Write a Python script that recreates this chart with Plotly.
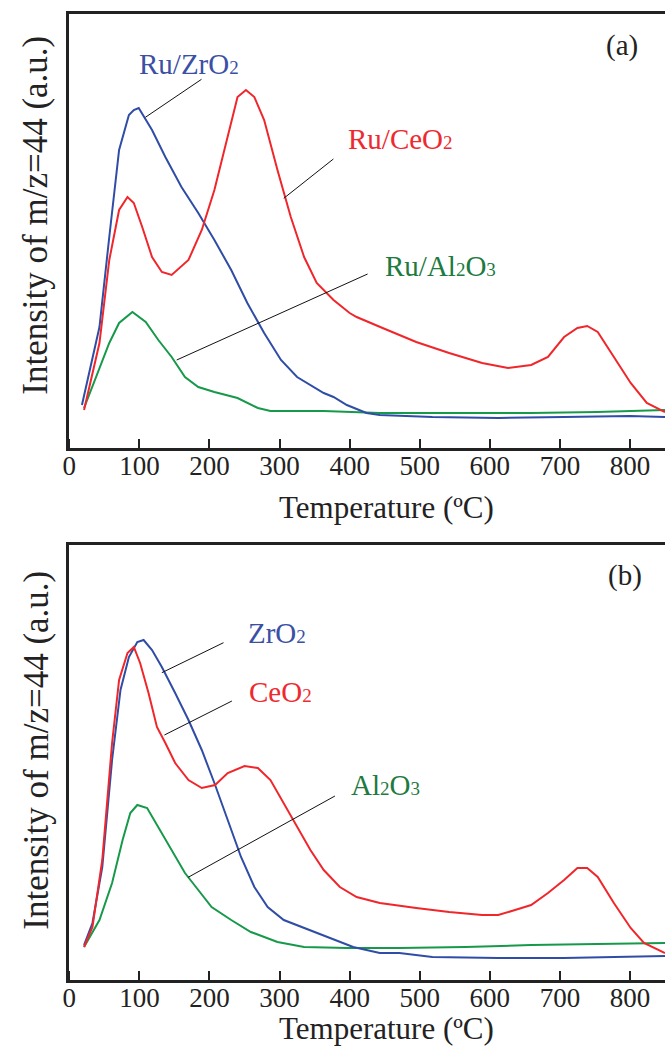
import plotly.graph_objects as go

# ---------------- data ----------------
# Panel (a): Ru catalysts
a_zr_T = [18, 43, 57, 71, 85, 92, 99, 104, 118, 137, 160, 184, 207, 231, 254, 278, 302, 325, 363, 377, 396, 424, 443, 518, 612, 706, 800, 850]
a_zr_I = [43, 121, 211, 298, 333, 338, 340, 334, 318, 291, 261, 235, 208, 178, 145, 115, 88, 71, 55, 51, 43, 35, 33, 31, 30, 31, 32, 31]

a_ce_T = [21, 43, 57, 71, 83, 92, 104, 118, 132, 146, 170, 189, 207, 226, 240, 252, 264, 278, 297, 316, 335, 353, 377, 400, 410, 447, 495, 542, 589, 626, 659, 683, 706, 725, 739, 754, 777, 801, 824, 850]
a_ce_I = [38, 105, 188, 238, 251, 245, 221, 191, 176, 173, 188, 218, 258, 311, 351, 358, 351, 328, 278, 231, 191, 165, 148, 135, 131, 120, 106, 95, 85, 80, 83, 91, 111, 120, 122, 116, 91, 65, 45, 36]

a_al_T = [21, 38, 57, 71, 90, 109, 127, 146, 165, 184, 207, 240, 269, 287, 363, 443, 518, 659, 753, 850]
a_al_I = [40, 71, 105, 125, 136, 126, 108, 91, 71, 61, 56, 50, 40, 37, 37, 35, 35, 35, 36, 38]

# Panel (b): bare supports
b_zr_T = [21, 33, 47, 61, 73, 85, 97, 106, 118, 132, 151, 170, 189, 207, 226, 245, 264, 283, 306, 335, 372, 405, 443, 471, 518, 612, 706, 800, 850]
b_zr_I = [35, 57, 113, 220, 290, 323, 338, 340, 330, 313, 287, 260, 230, 197, 160, 123, 93, 73, 60, 52, 42, 33, 27, 27, 23, 22, 22, 23, 24]

b_ce_T = [21, 33, 47, 61, 71, 83, 92, 101, 113, 125, 137, 151, 170, 189, 208, 226, 250, 269, 287, 306, 325, 344, 363, 386, 410, 443, 495, 542, 589, 612, 636, 659, 683, 706, 725, 739, 754, 777, 801, 820, 850]
b_ce_I = [33, 53, 120, 237, 300, 327, 333, 317, 287, 253, 237, 217, 200, 192, 195, 207, 214, 212, 200, 177, 153, 130, 110, 93, 83, 77, 72, 68, 65, 65, 70, 75, 87, 100, 112, 112, 103, 77, 52, 37, 27]

b_al_T = [21, 43, 61, 76, 87, 97, 111, 127, 146, 165, 184, 203, 231, 259, 297, 335, 396, 471, 565, 659, 753, 850]
b_al_I = [33, 60, 97, 140, 167, 175, 172, 153, 130, 107, 90, 73, 60, 48, 38, 33, 32, 32, 33, 35, 36, 37]

tick_vals = [0, 100, 200, 300, 400, 500, 600, 700, 800]
x_title = "Temperature (ºC)"
y_title = "Intensity of m/z=44 (a.u.)"

SUB = "<span style='font-size:19px'>{}</span>"
labels_a = ["Ru/ZrO" + SUB.format(2), "Ru/CeO" + SUB.format(2), "Ru/Al" + SUB.format(2) + "O" + SUB.format(3)]
labels_b = ["ZrO" + SUB.format(2), "CeO" + SUB.format(2), "Al" + SUB.format(2) + "O" + SUB.format(3)]

# label positions (T, intensity) and leader lines ((T0,I0),(T1,I1))
lab_pos_a = [(170.6, 384.5), (472, 309), (530, 182)]
lead_a = [((188.6, 368.7), (108.5, 330.7)), ((376.8, 289), (306, 249.7)), ((425.6, 174), (153.2, 88))]
lab_pos_b = [(295.9, 347), (301.3, 288.3), (450.7, 195)]
lead_b = [((220, 337.3), (132, 307.3)), ((232, 279), (135.7, 245)), ((379, 184), (169.6, 102.7))]

line_colors = ["#2F4DA6", "#F0262B", "#17994A"]
text_colors = ["#3A50A5", "#EE2A30", "#1D7A40"]

FONT = "Liberation Serif, Times New Roman, serif"
W, H = 665, 1048

fig = go.Figure()
series_a = [(a_zr_T, a_zr_I), (a_ce_T, a_ce_I), (a_al_T, a_al_I)]
series_b = [(b_zr_T, b_zr_I), (b_ce_T, b_ce_I), (b_al_T, b_al_I)]
order = [2, 0, 1]
for i in order:
    t, v = series_a[i]
    fig.add_trace(go.Scatter(x=t, y=v, mode="lines", line=dict(color=line_colors[i], width=2),
                             xaxis="x", yaxis="y", showlegend=False, hoverinfo="skip"))
for i in order:
    t, v = series_b[i]
    fig.add_trace(go.Scatter(x=t, y=v, mode="lines", line=dict(color=line_colors[i], width=2),
                             xaxis="x2", yaxis="y2", showlegend=False, hoverinfo="skip"))
# empty traces so the overlay axes (labels / ticks) are drawn
for xa, ya in [("x3", "y"), ("x4", "y2"), ("x5", "y"), ("x6", "y2")]:
    fig.add_trace(go.Scatter(x=[None], y=[None], xaxis=xa, yaxis=ya, showlegend=False, hoverinfo="skip"))

xdom = [63 / W, 1.0]
ydom_a = [1 - 448 / H, 1 - 14 / H]
ydom_b = [1 - 980 / H, 1 - 545 / H]
LABEL_LIFT = 1.5 / H   # tick labels a bit closer to the axis line than plotly's default
TICK_LEN = 10

# main axis: frame line (bottom + mirrored top)
xax = dict(domain=xdom, range=[0, 850], tickmode="array", tickvals=tick_vals, ticks="",
           showticklabels=False, showline=True, linewidth=2.5, linecolor="#222", mirror=True,
           showgrid=False, zeroline=False)
# overlay axis carrying only the tick labels
xlab = dict(domain=xdom, range=[0, 850], tickmode="array", tickvals=tick_vals, ticks="",
            showline=False, showgrid=False, zeroline=False, anchor="free",
            tickfont=dict(family=FONT, size=27, color="#222"))
# overlay axis carrying the upward ticks (drawn downward from a line TICK_LEN above the frame)
xtk = dict(domain=xdom, range=[0, 850], tickmode="array", tickvals=tick_vals, ticks="outside",
           ticklen=TICK_LEN, tickwidth=2, tickcolor="#222", showticklabels=False,
           showline=False, showgrid=False, zeroline=False, anchor="free", side="bottom")
yax = dict(showticklabels=False, ticks="", showline=True, linewidth=2.5, linecolor="#222",
           showgrid=False, zeroline=False)

fig.update_layout(
    width=W, height=H, margin=dict(l=0, r=0, t=0, b=0),
    paper_bgcolor="white", plot_bgcolor="white",
    xaxis=dict(xax, anchor="y"),
    yaxis=dict(yax, domain=ydom_a, range=[0, 434], anchor="x"),
    xaxis2=dict(xax, anchor="y2"),
    yaxis2=dict(yax, domain=ydom_b, range=[0, 435], anchor="x2"),
    xaxis3=dict(xlab, overlaying="x", position=ydom_a[0] + LABEL_LIFT),
    xaxis4=dict(xlab, overlaying="x2", position=ydom_b[0] + LABEL_LIFT),
    xaxis5=dict(xtk, overlaying="x", position=ydom_a[0] + TICK_LEN / H),
    xaxis6=dict(xtk, overlaying="x2", position=ydom_b[0] + TICK_LEN / H),
)

ann = []
shapes = []
for (xr, yr, labs, poss, leads) in [("x", "y", labels_a, lab_pos_a, lead_a), ("x2", "y2", labels_b, lab_pos_b, lead_b)]:
    for i in range(3):
        ann.append(dict(x=poss[i][0], y=poss[i][1], xref=xr, yref=yr, text=labs[i], showarrow=False,
                        font=dict(family=FONT, size=29, color=text_colors[i]), xanchor="center", yanchor="middle"))
        (x0, y0), (x1, y1) = leads[i]
        shapes.append(dict(type="line", xref=xr, yref=yr, x0=x0, y0=y0, x1=x1, y1=y1,
                           line=dict(color="#111", width=1)))

# panel letters
ann.append(dict(x=622 / W, y=1 - 45 / H, xref="paper", yref="paper", text="(a)", showarrow=False,
                font=dict(family=FONT, size=29, color="#222"), xanchor="center", yanchor="middle"))
ann.append(dict(x=625 / W, y=1 - 575 / H, xref="paper", yref="paper", text="(b)", showarrow=False,
                font=dict(family=FONT, size=29, color="#222"), xanchor="center", yanchor="middle"))
# axis titles
for yc in [507, 1028]:
    ann.append(dict(x=384 / W, y=1 - yc / H, xref="paper", yref="paper", text=x_title, showarrow=False,
                    font=dict(family=FONT, size=31, color="#222"), xanchor="center", yanchor="middle"))
for yc in [215, 750]:
    ann.append(dict(x=29 / W, y=1 - yc / H, xref="paper", yref="paper", text=y_title, showarrow=False,
                    textangle=-90, font=dict(family=FONT, size=35, color="#222"),
                    xanchor="center", yanchor="middle"))

fig.update_layout(annotations=ann, shapes=shapes)
fig.write_html("out.html", config={"displayModeBar": False},
               post_script="document.body.style.margin='0';document.body.style.overflow='hidden';")
